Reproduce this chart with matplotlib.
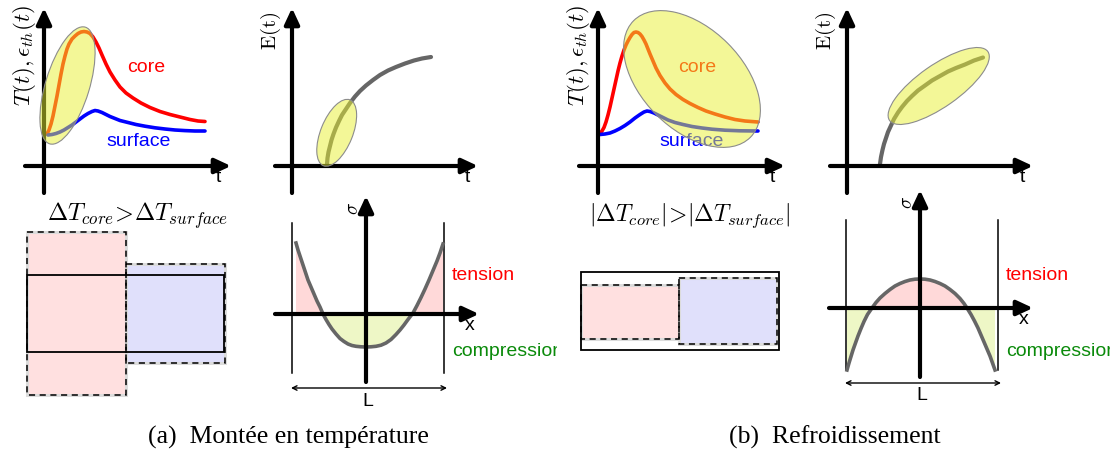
import numpy as np
import matplotlib
matplotlib.use("Agg")
import matplotlib.pyplot as plt
from matplotlib.patches import Ellipse, Rectangle
from matplotlib.transforms import Bbox

plt.rcParams["mathtext.fontset"] = "cm"
plt.rcParams["font.family"] = ["Liberation Sans", "DejaVu Sans"]

# ---- curves in pixels (x right, y down) ----
# (a) heating: core / surface temperature
core_a_x = [47, 49, 51, 53, 55, 57, 59, 61, 63, 65, 67, 69, 72, 75, 78, 81, 84, 87, 90, 93, 96, 99,
            102, 106, 110, 115, 120, 126, 133, 141, 150, 160, 170, 180, 190, 198, 205]
core_a_y = [134, 130, 124, 116, 106, 96, 85, 74, 64, 56, 49, 44, 39, 36, 33.5, 32, 31.5, 32, 33.5,
            37, 42, 48, 55, 64, 72, 80, 87, 93, 98, 103, 107.5, 111.5, 114.5, 117, 119.5, 121, 121.5]
surf_a_x = [48, 52, 56, 60, 64, 68, 72, 76, 80, 84, 88, 92, 95, 98, 102, 106, 110, 115, 120, 128,
            136, 145, 155, 165, 175, 185, 195, 205]
surf_a_y = [135, 134.5, 133.5, 132, 130, 127.5, 125, 122, 119, 116, 113.5, 111.5, 110.5, 111, 112.5,
            114.5, 116.5, 118.5, 120.5, 122.5, 124.5, 126.2, 127.8, 129, 130, 130.6, 131, 131]
# (a) Young modulus
E_a_x = [327, 327.5, 328.5, 330, 331.5, 333.5, 336, 339, 342, 346, 350, 355, 360, 366, 373, 380,
         388, 396, 405, 414, 422, 431]
E_a_y = [164, 158, 152, 146, 140, 134, 127.5, 121, 115, 109, 103, 96.5, 91, 85.5, 80, 75, 70.5, 67,
         63.5, 60.5, 58.5, 57]
# (a) stress profile
sig_a_x = np.array([296, 298, 300, 302, 304, 306, 308, 311, 314, 317, 320, 323, 326, 329, 332, 336,
                    340, 344, 348, 352, 356, 361, 366, 371, 376, 381, 386, 391, 396, 400, 404, 408,
                    413, 417, 421, 425, 429, 433, 437, 440, 443])
sig_a_y = np.array([243, 250, 256, 262, 268, 274, 280, 287, 294, 301, 307, 314, 319.5, 324.5, 329,
                    334, 338.5, 341.5, 344, 345.5, 346.3, 346.8, 347, 346.8, 346.3, 345.2, 343,
                    339.5, 334.5, 330, 325, 319.5, 313, 305.5, 297.5, 289, 280, 270.5, 261, 253, 244])

# (b) cooling: core / surface temperature
core_b_x = [600, 602, 604, 606, 608, 610, 612, 614, 616, 618, 620, 622, 624, 626, 628, 630, 632, 634,
            636, 638, 640, 642, 644, 646, 648, 650, 653, 656, 660, 665, 670, 676, 683, 690, 698, 706,
            715, 725, 735, 745, 758]
core_b_y = [133.5, 131, 127.5, 122, 115, 107, 98, 89, 80, 71, 63, 56, 50, 45, 41, 37.5, 34.5, 32.5,
            32, 32.5, 34, 36.5, 40, 44, 49, 54, 61, 68, 75.5, 83, 89, 94.5, 99.5, 103.5, 107.5, 111,
            114, 117, 119.5, 121, 122]
surf_b_x = [600, 605, 610, 615, 620, 625, 630, 635, 640, 644, 647, 650, 654, 658, 663, 668, 675, 683,
            692, 702, 712, 725, 740, 758]
surf_b_y = [134.5, 134, 133, 131, 128.5, 125.5, 122, 118, 114.5, 112, 111, 111.5, 113, 115, 117.5,
            120, 122.5, 124.5, 126.5, 128, 129.2, 130.2, 130.8, 131]
# (b) Young modulus
E_b_x = [880, 881, 882.5, 884, 886, 888, 891, 894, 898, 902, 907, 912, 918, 925, 932, 940, 948, 956,
         965, 974, 983]
E_b_y = [164, 157, 150, 144, 138, 132, 125.5, 119, 112.5, 107, 101, 96, 90.5, 85.5, 80.5, 76, 71.5,
         68, 64.5, 60.5, 57.5]
# (b) stress profile
sig_b_x = np.array([847, 849, 851, 853, 855.5, 858, 861, 864, 867.5, 872, 876, 880, 885, 890, 895,
                    900, 905, 910, 915, 920, 925, 930, 935, 940, 945, 950, 955, 960, 964, 967, 971,
                    974.5, 978, 981, 984, 987, 990, 992.5, 995])
sig_b_y = np.array([370, 363, 356.5, 350, 343, 336, 328.5, 321.5, 314.5, 308, 302.5, 298, 293.5,
                    289.5, 286, 283.5, 281.5, 280, 279.2, 279, 279.2, 280, 281.5, 283.5, 286, 289.5,
                    293.5, 298.5, 303.5, 308, 314.5, 321, 328, 335, 342, 349, 356, 363, 370])

# ---- blocks (x0, x1, y0, y1) ----
core_blk_a = (27, 126, 232, 395)
surf_blk_a = (126, 225, 264, 363)
ref_blk_a = (27, 224, 275, 352)
core_blk_b = (581, 679, 285, 339)
surf_blk_b = (679, 777, 278, 344)
ref_blk_b = (581, 779, 272, 350)

RED, BLUE, GREEN = "#ff0000", "#0000ff", "#0a8a0a"
PINK, LILAC = "#ffe0e0", "#e0e0fb"
TENS, COMP = "#ffd9d9", "#eef7c6"
BLOB = (0.91, 0.94, 0.19, 0.5)
GREY = "#666666"

fig = plt.figure(figsize=(11.16, 4.57), dpi=100)
ax = fig.add_axes([0, 0, 1, 1])
ax.set_xlim(0, 1116)
ax.set_ylim(457, 0)
ax.axis("off")


def arrow(x0, y0, x1, y1):
    ax.annotate("", xy=(x1, y1), xytext=(x0, y0), zorder=4,
                arrowprops=dict(arrowstyle="-|>,head_length=0.6,head_width=0.28",
                                lw=3, color="k", shrinkA=0, shrinkB=0,
                                mutation_scale=16))


def span(x0, x1, y):
    ax.annotate("", xy=(x1, y), xytext=(x0, y),
                arrowprops=dict(arrowstyle="<->", lw=1, color="k",
                                shrinkA=0, shrinkB=0, mutation_scale=8))


def blob(xy, w, h, ang):
    ax.add_patch(Ellipse(xy, w, h, angle=ang, facecolor=BLOB,
                         edgecolor="#8c8c8c", lw=0.8, zorder=5))


def block(b, fc, dashed=True):
    x0, x1, y0, y1 = b
    if dashed:
        ax.add_patch(Rectangle((x0, y0), x1 - x0, y1 - y0, facecolor=fc,
                               edgecolor="#dcdcdc", lw=2.2, zorder=2))
        ax.add_patch(Rectangle((x0, y0), x1 - x0, y1 - y0, fill=False,
                               edgecolor="k", lw=1.1, ls=(0, (4, 3)), zorder=3))
    else:
        ax.add_patch(Rectangle((x0, y0), x1 - x0, y1 - y0, fill=False,
                               edgecolor="k", lw=1.3, zorder=4))


def clipped(x, y, s, right, **kw):
    t = ax.text(x, y, s, **kw)
    t.set_clip_box(Bbox.from_extents(0, 0, right, 457))
    t.set_clip_on(True)


def temp_panel(ox, cx, cy, sx, sy, core_xy, surf_xy):
    arrow(ox, 193, ox, 8)
    arrow(ox - 19, 166, ox + 187, 166)
    ax.text(ox + 174, 177, "t", fontsize=14, ha="center", va="center")
    ax.text(ox - 20, 55, r"$T(t),\epsilon_{th}(t)$", fontsize=16.5, rotation=90,
            ha="center", va="center")
    ax.plot(cx, cy, color=RED, lw=2.6, solid_capstyle="round", zorder=3)
    ax.plot(sx, sy, color=BLUE, lw=2.6, solid_capstyle="round", zorder=3)
    ax.text(*core_xy, "core", color=RED, fontsize=14, ha="center", va="center")
    ax.text(*surf_xy, "surface", color=BLUE, fontsize=14, ha="center", va="center")


def E_panel(ox, ex, ey):
    arrow(ox, 193, ox, 8)
    arrow(ox - 17, 166, ox + 186, 166)
    ax.text(ox + 175, 177, "t", fontsize=14, ha="center", va="center")
    ax.text(ox - 21, 31, r"$\mathrm{E(t)}$", fontsize=15, rotation=90,
            ha="center", va="center")
    ax.plot(ex, ey, color=GREY, lw=3, solid_capstyle="round", zorder=3)


def sigma_panel(ox, oy, sx, sy, xl, xr, vtop, vbot, bot, L_y, right):
    ax.fill_between(sx, sy, oy, where=sy <= oy, interpolate=True, color=TENS, lw=0, zorder=1)
    ax.fill_between(sx, sy, oy, where=sy >= oy, interpolate=True, color=COMP, lw=0, zorder=1)
    ax.plot([xl, xl], [vtop, vbot], color="k", lw=1.1, zorder=2)
    ax.plot([xr, xr], [vtop, vbot], color="k", lw=1.1, zorder=2)
    ax.plot(sx, sy, color=GREY, lw=2.6, zorder=3)
    arrow(ox, bot, ox, oy - 118)
    arrow(ox - 91, oy, ox + 113, oy)
    ax.text(ox + 104, oy + 11, "x", fontsize=14, ha="center", va="center")
    ax.text(ox - 12, oy - 106, r"$\sigma$", fontsize=14, rotation=90,
            ha="center", va="center")
    span(xl - 1, xr + 3, L_y)
    ax.text(ox + 2, L_y + 13, "L", fontsize=14, ha="center", va="center")
    ax.text(xr + 8, 275, "tension", color=RED, fontsize=14, ha="left", va="center")
    clipped(xr + 8, 352, "compression", right, color=GREEN, fontsize=14,
            ha="left", va="center")


# (a) heating
temp_panel(44, core_a_x, core_a_y, surf_a_x, surf_a_y, (146, 67), (139, 142))
blob((67.5, 85.5), 122, 44, -73)
E_panel(292, E_a_x, E_a_y)
blob((336.7, 132.8), 71, 32, -68)
block(core_blk_a, PINK)
block(surf_blk_a, LILAC)
block(ref_blk_a, None, dashed=False)
ax.text(138, 216, r"$\Delta T_{core}\!>\!\Delta T_{surface}$", fontsize=17.5,
        ha="center", va="center")
sigma_panel(366, 314, sig_a_x, sig_a_y, 292, 444, 223, 373, 382, 388, 557)

# (b) cooling
temp_panel(598, core_b_x, core_b_y, surf_b_x, surf_b_y, (697, 67), (692, 142))
blob((692, 79), 165, 101, 45)
E_panel(847, E_b_x, E_b_y)
blob((938.7, 86), 120, 42, -35)
block(ref_blk_b, None, dashed=False)
block(core_blk_b, PINK)
block(surf_blk_b, LILAC)
ax.text(690, 216, r"$|\Delta T_{core}|\!>\!|\Delta T_{surface}|$", fontsize=17,
        ha="center", va="center")
sigma_panel(920, 308, sig_b_x, sig_b_y, 846, 998, 220, 370, 377, 383, 1110)

for x, s in [(288, "(a)  Montée en température"), (835, "(b)  Refroidissement")]:
    ax.text(x, 437, s, fontsize=18.5, family="Liberation Serif",
            ha="center", va="center")

fig.savefig("out.png", dpi=100)
